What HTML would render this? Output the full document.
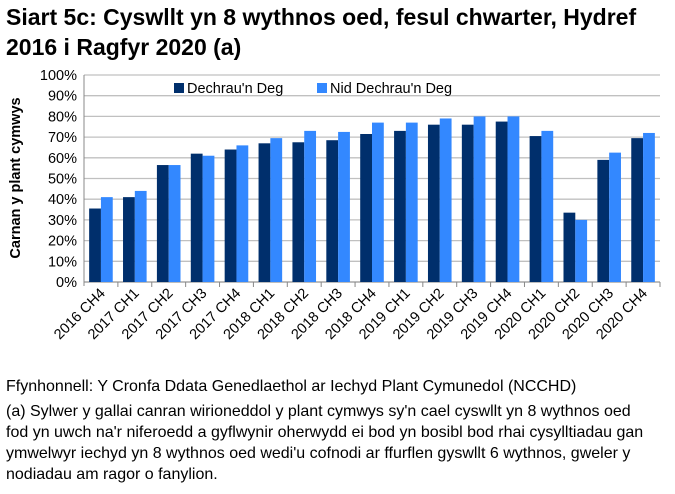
<!DOCTYPE html>
<html><head><meta charset="utf-8"><style>
body{margin:0;background:#fff;font-family:"Liberation Sans",Arial,sans-serif;}
#wrap{position:relative;width:675px;height:494px;overflow:hidden;}
.t{position:absolute;left:6px;top:2px;font-size:23px;font-weight:bold;line-height:30px;color:#000;width:669px;}
.n{position:absolute;left:6px;font-size:16px;line-height:21px;color:#000;}
</style></head><body>
<div id="wrap">
<div class="t">Siart 5c: Cyswllt yn 8 wythnos oed, fesul chwarter, Hydref 2016 i Ragfyr 2020 (a)</div>
<svg id="c" width="675" height="380" style="position:absolute;left:0;top:0"></svg>
<div class="n" style="top:376px">Ffynhonnell: Y Cronfa Ddata Genedlaethol ar Iechyd Plant Cymunedol (NCCHD)</div>
<div class="n" style="top:401px;width:650px">(a) Sylwer y gallai canran wirioneddol y plant cymwys sy'n cael cyswllt yn 8 wythnos oed fod yn uwch na'r niferoedd a gyflwynir oherwydd ei bod yn bosibl bod rhai cysylltiadau gan ymwelwyr iechyd yn 8 wythnos oed wedi'u cofnodi ar ffurflen gyswllt 6 wythnos, gweler y nodiadau am ragor o fanylion.</div>
</div>
<script>
const categories=["2016 CH4","2017 CH1","2017 CH2","2017 CH3","2017 CH4","2018 CH1","2018 CH2","2018 CH3","2018 CH4","2019 CH1","2019 CH2","2019 CH3","2019 CH4","2020 CH1","2020 CH2","2020 CH3","2020 CH4"];
const dechrau=[35.5,41,56.5,62,64,67,67.5,68.5,71.5,73,76,76,77.5,70.5,33.5,59,69.5];
const nid=[41,44,56.5,61,66,69.5,73,72.5,77,77,79,80,80,73,30,62.5,72];
const ticks=[0,10,20,30,40,50,60,70,80,90,100];
const NS="http://www.w3.org/2000/svg";
const svg=document.getElementById('c');
const x0=84,x1=660,y0=282,y1=75;
const y=v=>y0-(v/100)*(y0-y1);
const bw=(x1-x0)/categories.length;
function mk(t,a,txt){const e=document.createElementNS(NS,t);for(const k in a)e.setAttribute(k,a[k]);if(txt!==undefined)e.textContent=txt;svg.appendChild(e);return e;}
ticks.forEach(t=>{
 const g=mk('line',{x1:x0,x2:x1,y1:y(t),y2:y(t),stroke:'#c0c0c0','stroke-width':1.3});
 
 
 const l=mk('text',{x:x0-7,y:y(t)+5,'text-anchor':'end','font-size':14.5,fill:'#000'},t+'%');
 
 
});
mk('line',{x1:x0,x2:x0,y1:y1,y2:y0+4,stroke:'#888'});
mk('line',{x1:x0,x2:x1,y1:y0,y2:y0,stroke:'#888'});
categories.forEach((c,i)=>{
 const cx=x0+bw*(i+0.5);
 mk('line',{x1:x0+bw*(i+1),x2:x0+bw*(i+1),y1:y0,y2:y0+5,stroke:'#888'});
 const b1=mk('rect',{x:cx-11.8,y:y(dechrau[i]),width:11.8,height:y0-y(dechrau[i]),fill:'#002f6c'});
 
 
 const b2=mk('rect',{x:cx,y:y(nid[i]),width:11.8,height:y0-y(nid[i]),fill:'#3388ff'});
 
 
 const tl=mk('text',{x:cx+5,y:y0+12,'text-anchor':'end','font-size':14.5,fill:'#000',transform:`rotate(-45 ${cx+5} ${y0+12})`},c);
 
 
});
const at=mk('text',{x:20,y:178,'text-anchor':'middle','font-size':14.5,'font-weight':'bold',fill:'#000',transform:'rotate(-90 20 178)'},'Carnan y plant cymwys');


const l1=mk('rect',{x:174,y:83,width:10,height:10,fill:'#002f6c'});


const lt1=mk('text',{x:187,y:93,'font-size':14.5,fill:'#000'},"Dechrau'n Deg");


const l2=mk('rect',{x:317,y:83,width:10,height:10,fill:'#3388ff'});


const lt2=mk('text',{x:330,y:93,'font-size':14.5,fill:'#000'},"Nid Dechrau'n Deg");


</script>
</body></html>
